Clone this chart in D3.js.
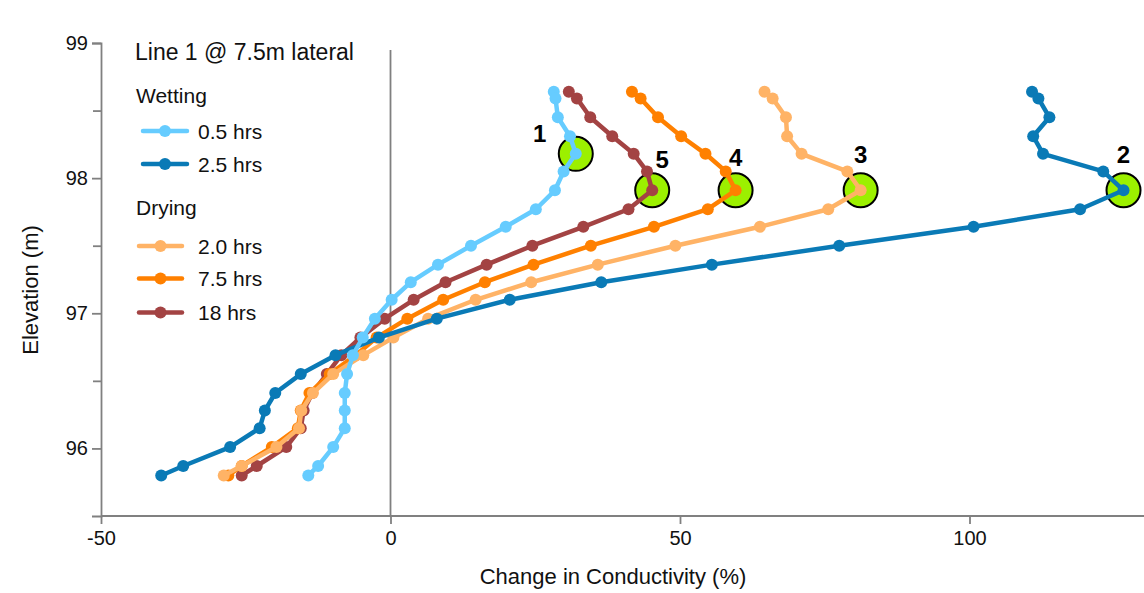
<!DOCTYPE html>
<html>
<head>
<meta charset="utf-8">
<script src="https://cdn.jsdelivr.net/npm/d3@7"></script>
<style>
body { margin: 0; background: #fff; }
svg { font-family: "Liberation Sans", Arial, sans-serif; }
</style>
</head>
<body>
<svg width="1144" height="593"></svg>
<script>
// elevation of each measurement point (m), shared by all series
var elevation = [98.64, 98.59, 98.45, 98.31, 98.18, 98.05, 97.91, 97.77, 97.64, 97.50, 97.36, 97.23,
	97.10, 96.96, 96.82, 96.69, 96.55, 96.41, 96.28, 96.15, 96.01, 95.87, 95.80];

// change in conductivity (%)
var wet05 = [28.2, 28.5, 28.9, 31.0, 32.0, 29.9, 28.4, 25.1, 19.9, 13.9, 8.2, 3.5,
	0.2, -2.7, -4.8, -6.5, -7.5, -7.9, -7.9, -7.9, -9.9, -12.5, -14.2];
var wet25 = [110.8, 111.9, 113.8, 111.0, 112.7, 123.1, 126.6, 119.1, 100.7, 77.5, 55.5, 36.4,
	20.6, 8.0, -2.0, -9.5, -15.5, -19.9, -21.7, -22.6, -27.7, -35.8, -39.6];
var dry20 = [64.6, 66.0, 68.3, 68.5, 71.0, 78.9, 81.2, 75.6, 63.8, 49.2, 35.8, 24.3,
	14.7, 6.5, 0.5, -4.7, -9.9, -13.4, -15.4, -15.8, -19.7, -25.7, -28.8];
var dry75 = [41.7, 43.2, 46.2, 50.2, 54.4, 57.9, 59.6, 54.8, 45.5, 34.6, 24.7, 16.3,
	9.1, 2.9, -2.4, -6.0, -10.5, -14.0, -15.5, -16.0, -20.5, -25.7, -28.0];
var dry18 = [30.8, 32.2, 34.5, 38.3, 42.0, 44.3, 45.2, 41.1, 33.3, 24.5, 16.6, 9.5,
	4.0, -1.0, -5.2, -8.5, -11.0, -13.5, -15.0, -15.5, -18.0, -23.1, -25.7];

var seriesNames = ["0.5 hrs", "2.5 hrs", "2.0 hrs", "7.5 hrs", "18 hrs"];
var seriesGroups = ["Wetting", "Wetting", "Drying", "Drying", "Drying"];
var seriesColors = ["#66ccff", "#0a7ab6", "#ffb366", "#ff8000", "#a34343"];

// highlighted points: label, series index, point index
var markLabels = ["1", "2", "3", "4", "5"];
var markSeries = [0, 1, 2, 3, 4];
var markPoint = [4, 6, 6, 6, 6];

var xTicks = [-50, 0, 50, 100];
var yTicks = [96, 97, 98, 99];
var yMinorTicks = [96.5, 97.5, 98.5];

var seriesValues = [wet05, wet25, dry20, dry75, dry18];

var svg = d3.select("svg");
var axisColor = "#808080";

var x = d3.scaleLinear().domain([-50, 130]).range([101, 1143.2]);
var y = d3.scaleLinear().domain([95.5, 99]).range([516, 43]);

// axes
var xAxis = svg.append("g")
	.attr("transform", "translate(0,516)")
	.call(d3.axisBottom(x).tickValues(xTicks).tickSize(8).tickPadding(7).tickFormat(function(d){ return String(d); }));
var yAxis = svg.append("g")
	.attr("transform", "translate(101,0)")
	.call(d3.axisLeft(y).tickValues(yTicks).tickSize(9).tickPadding(4).tickFormat(function(d){ return String(d); }));
svg.append("g")
	.attr("transform", "translate(101,0)")
	.call(d3.axisLeft(y).tickValues(yMinorTicks).tickSize(8).tickFormat(""))
	.select(".domain").remove();

svg.selectAll(".domain, .tick line")
	.attr("stroke", axisColor)
	.attr("stroke-width", 1.8);
svg.selectAll(".tick text")
	.attr("fill", "#111")
	.style("font-size", "20px");
xAxis.select(".domain").attr("d", "M" + x(-50) + ",0H1144");

// zero line
svg.append("line")
	.attr("x1", x(0)).attr("x2", x(0))
	.attr("y1", 50).attr("y2", 516)
	.attr("stroke", axisColor)
	.attr("stroke-width", 1.8);

// axis titles
svg.append("text")
	.attr("x", 613).attr("y", 584)
	.attr("text-anchor", "middle")
	.style("font-size", "22px")
	.attr("fill", "#111")
	.text("Change in Conductivity (%)");
svg.append("text")
	.attr("transform", "rotate(-90)")
	.attr("x", -290).attr("y", 38)
	.attr("text-anchor", "middle")
	.style("font-size", "22px")
	.attr("fill", "#111")
	.text("Elevation (m)");

// highlight circles (under the lines)
markLabels.forEach(function(lab, i){
	var s = markSeries[i], p = markPoint[i];
	svg.append("circle")
		.attr("cx", x(seriesValues[s][p]))
		.attr("cy", y(elevation[p]))
		.attr("r", 17)
		.attr("fill", "#9cf000")
		.attr("stroke", "#000")
		.attr("stroke-width", 2);
});

// series, drawn bottom to top
var drawOrder = [4, 3, 2, 1, 0];
var line = d3.line()
	.x(function(d){ return x(d.v); })
	.y(function(d){ return y(d.e); });

drawOrder.forEach(function(s){
	var pts = seriesValues[s].map(function(v, i){ return {v: v, e: elevation[i]}; });
	var g = svg.append("g");
	g.append("path")
		.datum(pts)
		.attr("d", line)
		.attr("fill", "none")
		.attr("stroke", seriesColors[s])
		.attr("stroke-width", 4.5)
		.attr("stroke-linejoin", "round");
	g.selectAll("circle")
		.data(pts)
		.enter().append("circle")
		.attr("cx", function(d){ return x(d.v); })
		.attr("cy", function(d){ return y(d.e); })
		.attr("r", 6)
		.attr("fill", seriesColors[s]);
});

// highlight labels
var labelDx = [-36, 0, 0, 0, 10];
var labelDy = [-12, -27, -27, -24, -22];
markLabels.forEach(function(lab, i){
	var s = markSeries[i], p = markPoint[i];
	svg.append("text")
		.attr("x", x(seriesValues[s][p]) + labelDx[i])
		.attr("y", y(elevation[p]) + labelDy[i])
		.attr("text-anchor", "middle")
		.style("font-size", "24px")
		.style("font-weight", "bold")
		.attr("fill", "#000")
		.text(lab);
});

// legend
var legend = svg.append("g");
legend.append("text")
	.attr("x", 135).attr("y", 60)
	.style("font-size", "23px")
	.attr("fill", "#111")
	.text("Line 1 @ 7.5m lateral");

var groupTitleY = {"Wetting": 103, "Drying": 215};
var groupLineX = {"Wetting": [143, 187], "Drying": [139, 182]};
var itemY = [131, 164, 246, 278.5, 312.5];

["Wetting", "Drying"].forEach(function(gname){
	legend.append("text")
		.attr("x", 136).attr("y", groupTitleY[gname])
		.style("font-size", "21px")
		.attr("fill", "#111")
		.text(gname);
});

seriesNames.forEach(function(name, i){
	var lx = groupLineX[seriesGroups[i]];
	legend.append("line")
		.attr("x1", lx[0]).attr("x2", lx[1])
		.attr("y1", itemY[i]).attr("y2", itemY[i])
		.attr("stroke", seriesColors[i])
		.attr("stroke-width", 4.5)
		.attr("stroke-linecap", "round");
	legend.append("circle")
		.attr("cx", (lx[0] + lx[1]) / 2)
		.attr("cy", itemY[i])
		.attr("r", 6)
		.attr("fill", seriesColors[i]);
	legend.append("text")
		.attr("x", 198).attr("y", itemY[i] + 7.5)
		.style("font-size", "21px")
		.attr("fill", "#111")
		.text(name);
});
</script>
</body>
</html>
